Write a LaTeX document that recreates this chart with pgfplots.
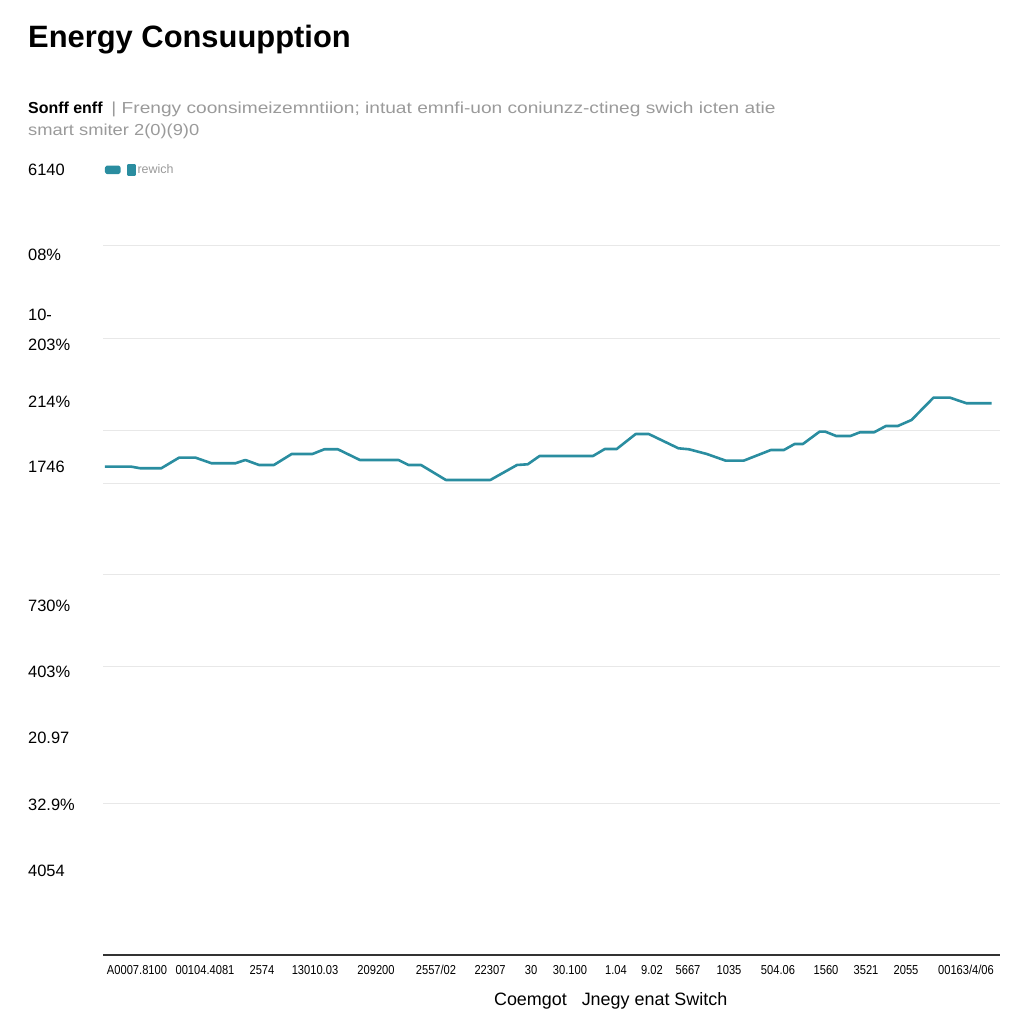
\documentclass[border=0pt]{standalone}
\usepackage{graphicx}
\usepackage{pgfplots}
\pgfplotsset{compat=1.18}
\usepackage{fontspec}
\setmainfont{Liberation Sans}
\definecolor{lineteal}{HTML}{2A8DA0}
\definecolor{gridgrey}{HTML}{E8E8E8}
\definecolor{subgrey}{HTML}{9A9A9A}
\newcommand{\cn}[1]{\scalebox{0.86}[1]{#1}}
\begin{document}
\begin{tikzpicture}
\path[use as bounding box] (0,0) rectangle (1024bp,1024bp);
\node[anchor=base west, inner sep=0pt, font=\fontsize{31}{34}\selectfont\bfseries] at (28bp,976bp) {Energy Consuupption};
\node[anchor=base west, inner sep=0pt, font=\fontsize{16}{20}\selectfont] at (28bp,910bp) {\textbf{Sonff enff}\ \ \textcolor{subgrey}{\scalebox{1.2}[1]{| Frengy coonsimeizemntiion; intuat emnfi-uon coniunzz-ctineg swich icten atie}}};
\node[anchor=base west, inner sep=0pt, font=\fontsize{16}{20}\selectfont, text=subgrey] at (28bp,888bp) {\scalebox{1.15}[1]{smart smiter 2(0)(9)0}};
\node[anchor=base west, inner sep=0pt, font=\fontsize{16.5}{20}\selectfont] at (28bp,848bp) {6140};
\begin{axis}[
  at={(103bp,69bp)}, anchor=south west, scale only axis,
  width=897bp, height=725bp,
  xmin=103, xmax=1000, ymin=69, ymax=794,
  axis lines*=left,
  axis line style={-},
  x axis line style={draw=black!80, line width=1.8bp},
  y axis line style={draw=none},
  major tick length=0,
  ytick={778,685,593,540,449,357,220},
  yticklabels={},
  ymajorgrids,
  grid style={gridgrey, line width=1bp},
  extra y ticks={769,709,679,622,557,418.5,352,286,219,153},
  extra y tick labels={08\%,10-,203\%,214\%,1746,730\%,403\%,20.97,32.9\%,4054},
  extra y tick style={grid=none, major tick length=0,
    yticklabel style={anchor=west, inner sep=0pt, xshift=-75bp, font=\fontsize{16.5}{20}\selectfont}},
  xtick={137,205,262,315,376,436,490,531,570,616,652,688,729,778,826,866,906,966},
  xticklabels={\cn{A0007.8100},\cn{00104.4081},\cn{2574},\cn{13010.03},\cn{209200},\cn{2557/02},\cn{22307},\cn{30},\cn{30.100},\cn{1.04},\cn{9.02},\cn{5667},\cn{1035},\cn{504.06},\cn{1560},\cn{3521},\cn{2055},\cn{00163/4/06}},
  xticklabel style={font=\fontsize{13}{15}\selectfont, inner sep=0pt, anchor=base, yshift=-19bp},
  xlabel={Coemgot\ \ \ Jnegy enat Switch},
  xlabel style={at={(axis description cs:0.566,0)}, anchor=base, yshift=-50bp, inner sep=0pt, font=\fontsize{18}{20}\selectfont},
  legend style={at={(axis description cs:0.002,1.083)}, anchor=west, draw=none, fill=none, inner sep=0pt,
    font=\fontsize{12.5}{15}\selectfont, text=subgrey},
  legend cell align=left,
  clip=false,
]
\addplot[color=lineteal, line width=2.6bp, line join=round, no markers,
  legend image code/.code={
    \fill[lineteal, rounded corners=1bp] (0bp,-3bp) rectangle (13bp,3bp);
    \fill[lineteal] (22bp,-5bp) rectangle (28bp,5bp);
  }] coordinates {
(104.8,557.3) (131.5,557.3) (140.4,555.7) (161.2,555.7) (179.0,566.3) (195.6,566.3)
(211.6,560.7) (235.3,560.7) (245.4,564) (259.0,559) (273.9,559) (291.7,570) (312.4,570)
(324.3,574.7) (337.9,574.7) (359.9,564) (398.4,564) (408.5,559) (421.0,559) (445.9,544)
(490.3,544) (517.0,559) (527.7,559.7) (539.6,568) (593.0,568) (604.8,575) (616.7,575)
(635.7,590) (648.7,590) (678.4,575.7) (689.0,574.7) (706.8,570) (725.8,563.3) (743.6,563.3)
(770.9,574) (783.9,574) (794.6,580) (802.9,580) (819.5,592.3) (825.4,592.3) (836.1,588)
(850.4,588) (859.9,591.7) (874.1,591.7) (885.9,598) (897.8,598) (911.5,604) (933.4,626.3)
(950.0,626.3) (966.6,620.7) (991.5,620.7)
};
\addlegendentry{rewich}
\end{axis}
\end{tikzpicture}
\end{document}
